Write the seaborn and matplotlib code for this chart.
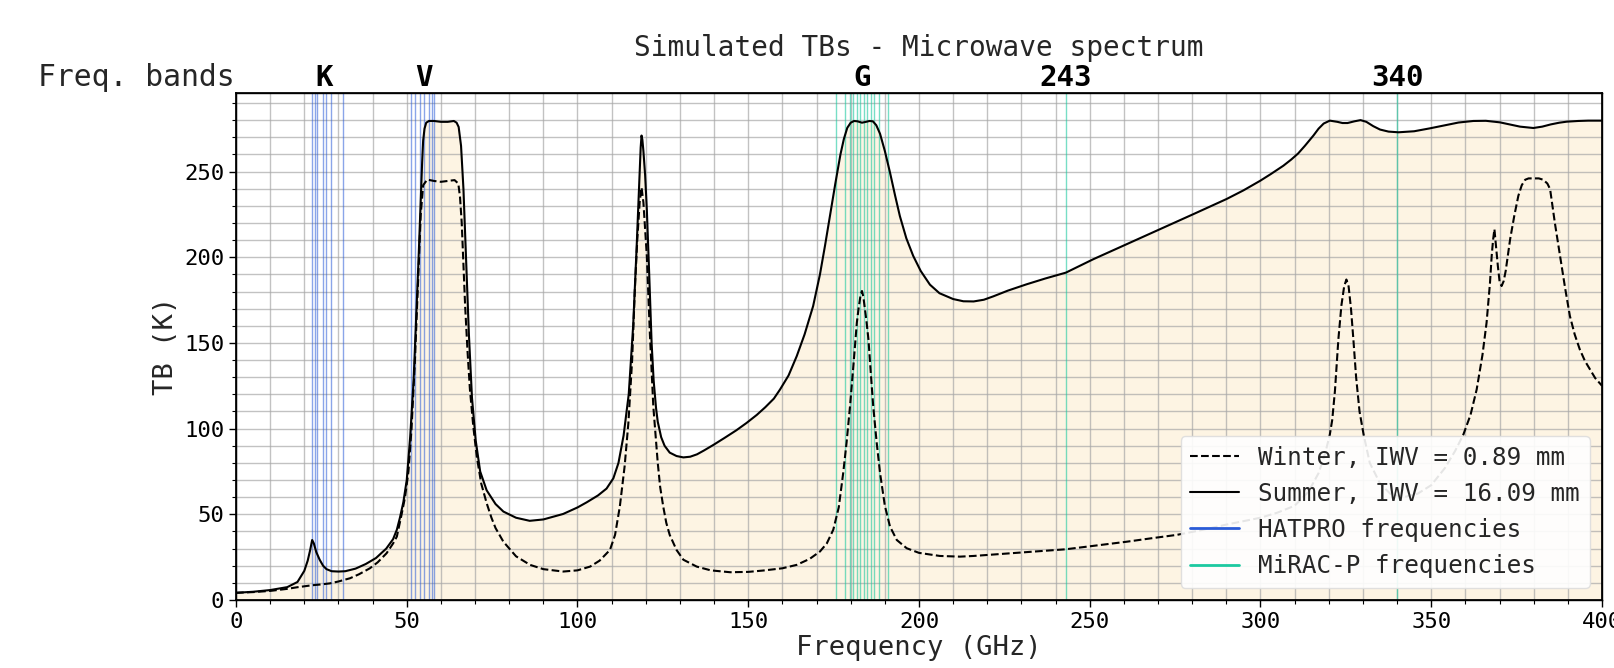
import numpy as np
import pandas as pd
import matplotlib
matplotlib.use("Agg")
import matplotlib.pyplot as plt
from matplotlib.lines import Line2D
from matplotlib.ticker import MultipleLocator
import seaborn as sns

# ---------------- data ----------------
summer_freq = [0, 5, 10, 15, 18, 20, 21, 21.7, 22.3, 22.8, 23.5, 24.5, 25.5, 26.5, 28, 30, 32, 35, 38,
               41, 44, 46, 47.1, 48, 49, 50, 51, 51.4, 52, 52.4, 53, 53.4, 53.8, 54.1, 54.5, 54.8,
               55.2, 55.7, 56.5, 58, 60, 62, 63.8, 64.6, 65.2, 65.9, 66.6, 67.4, 68.2, 69.1, 70.2,
               71.5, 73.4, 76, 78.3, 82, 86, 90, 95.8, 100, 102.7, 106, 108.5, 110.5, 112, 113.5,
               115, 116.3, 117.3, 117.8, 118.2, 118.5, 118.75, 119.0, 119.3, 119.8, 120.3, 121,
               121.7, 122.3, 123, 123.5, 124.5, 125.5, 127, 129, 131, 133, 135, 137, 139.8, 143,
               146.5, 149.5, 152.5, 155, 157.5, 159.3, 161.8, 164.2, 166.5, 169, 171, 172.5, 174,
               175.5, 177, 178, 179, 180, 181, 182, 183.3, 184.5, 185.5, 186.5, 187.5, 188.6, 190,
               191.5, 193, 194.4, 196.3, 198.3, 200.5, 203.2, 206, 210, 213, 216, 219, 221.8, 226,
               231.5, 237, 243, 251, 260.8, 270.6, 280.3, 290.1, 295, 299.9, 303, 306.7, 309, 311,
               313, 315.5, 317, 318.5, 320.3, 322.5, 324, 325.5, 327.5, 329.3, 331, 333, 335, 337.5,
               340.4, 345, 349.6, 354, 358, 362.3, 366, 370.1, 373, 376, 379.9, 382.5, 385, 387.5,
               389.7, 393, 396, 400]
summer_tb = [4.2, 4.8, 5.8, 7.5, 10.5, 17, 23, 29, 35, 33, 28, 23.5, 20, 18, 16.8, 16.6, 16.8, 18.3,
             21, 24.5, 30, 35.5, 41, 48, 57, 70, 95, 108, 128, 147, 175, 196, 218, 235, 255, 268,
             275, 278.5, 279.5, 279.5, 279, 279, 279.5, 278.5, 276, 265, 240, 198, 155, 118, 93,
             75, 64, 56, 51.6, 48, 46.2, 47, 50.2, 54, 57, 61, 65, 71, 80, 96, 120, 160, 205, 230,
             250, 264, 271, 268.5, 262, 248, 228, 190, 150, 128, 112, 104, 95, 90, 86, 84, 83.2,
             83.6, 85, 87.2, 90.5, 94.5, 99, 103.3, 108, 112.5, 117.5, 122.8, 131, 142.3, 155,
             171.5, 190, 207, 225, 243, 260, 269, 275.5, 278.5, 279.5, 279.3, 278.5, 279, 279.5,
             279.3, 277, 272, 262, 249.5, 236, 224, 211, 200.8, 192, 184, 179, 175.6, 174.3,
             174.2, 175.2, 177.2, 180.5, 184.2, 187.6, 191, 198.8, 207.6, 216.4, 225.1, 234, 239,
             244.6, 248.5, 253.4, 257, 260.5, 265, 271, 275, 278, 279.7, 279, 278.3, 278.3, 279.3,
             280, 279, 276.5, 274.5, 273.3, 272.9, 273.5, 275.2, 277, 278.6, 279.5, 279.6, 278.7,
             277.5, 276.2, 275.4, 276.2, 277.5, 278.5, 279.1, 279.5, 279.7, 279.7]

winter_freq = [0, 5, 10, 15, 17.8, 20, 22.3, 25, 27.5, 30, 33.4, 36, 39.2, 41.5, 44.1, 46, 47.1, 48.5,
               49.5, 50.5, 51.4, 52.4, 53.4, 54.1, 54.8, 56, 58, 60, 62, 64, 65.1, 65.6, 66.1, 66.6,
               67.1, 67.8, 68.5, 69.5, 70.5, 71.8, 73.4, 74.8, 76, 78.3, 82, 86.1, 90, 95.8, 100,
               103.7, 106.5, 109.5, 111, 112.4, 113.8, 114.9, 116, 116.8, 117.5, 118.2, 118.75,
               119.3, 120.3, 121.2, 122.2, 123.5, 124.2, 125.1, 126, 127, 129, 131, 134.9, 139,
               144.7, 150, 154.4, 160, 164.2, 168, 171, 173, 174.9, 176.5, 177.8, 178.8, 179.8,
               180.8, 181.8, 182.3, 182.9, 183.3, 183.7, 184.6, 185.2, 185.9, 186.6, 187.6, 188.6,
               190, 191.5, 193.5, 196.4, 200, 206.1, 212, 216, 225, 235, 243, 252, 260.8, 268,
               275.5, 282, 290, 300, 305, 310, 314, 317, 319, 320.3, 321, 321.8, 322.8, 323.7,
               324.5, 325.15, 325.8, 326.5, 327.2, 328, 329, 330.2, 332, 335, 338, 342, 346, 350,
               354, 357, 359.4, 361.5, 363.3, 365, 366.2, 367.2, 367.7, 368.1, 368.5, 369, 369.5,
               370, 370.6, 371.2, 371.8, 373.1, 374.3, 375.5, 376.5, 377.5, 378.5, 380, 381.5,
               382.8, 384, 384.8, 386.2, 387.7, 389.2, 390.6, 392, 393.5, 395, 396.5, 398, 400]
winter_tb = [4.2, 4.6, 5.3, 6.5, 7.4, 8, 8.6, 9.1, 9.7, 10.8, 12.7, 15, 18.5, 22, 27.3, 33, 37, 50,
             60, 75, 100, 140, 190, 225, 242, 245.3, 244.5, 244, 244.5, 245, 243, 235, 220, 196,
             171.5, 145, 122.8, 101, 83.8, 68, 56.5, 48, 42, 34, 25.5, 20.5, 18, 16.6, 17.3, 19.5,
             23, 29.2, 38, 54.6, 78, 103.3, 140, 181.3, 210, 232, 240.7, 232, 200.8, 155, 113, 80,
             66, 54.6, 45, 38, 29.2, 23.5, 19.5, 17.3, 16.2, 16.4, 17.2, 18.5, 20.5, 24, 28.3, 33,
             41, 54, 74, 92, 113, 137, 161.8, 170, 178, 180.3, 177, 163, 152, 132, 113, 92, 74, 55,
             42.9, 35, 30.2, 27.5, 25.7, 25.3, 25.7, 27, 28.5, 29.6, 31.8, 34, 36, 38, 40.5, 44, 48,
             51, 55, 63, 74, 86, 96.5, 105, 122, 152, 172, 183, 187, 183, 170, 152, 130, 110, 96.5,
             80, 68, 62, 60, 62, 67, 77, 87, 96.5, 108, 122.8, 143, 161.8, 185, 200.8, 210, 216.4,
             206, 195, 186, 183.2, 186, 192, 210.5, 224, 235.8, 242, 245.2, 246, 246, 246, 245.2,
             243, 239.8, 220, 200.8, 182, 165.7, 155, 146.2, 139.5, 134.5, 129.5, 125]

hatpro_freqs = [22.24, 23.04, 23.84, 25.44, 26.24, 27.84, 31.40,
                51.26, 52.28, 53.86, 54.94, 56.66, 57.30, 58.00]
mirac_freqs = [175.81, 178.31, 179.81, 180.81, 181.81, 182.71, 183.91, 184.81,
               185.81, 186.81, 188.31, 190.81, 243.0, 340.0]

band_pos = [25.7, 54.9, 183.31, 243.0, 340.0]
band_labels = ["K", "V", "G", "243", "340"]

legend_labels = ["Winter, IWV = 0.89 mm", "Summer, IWV = 16.09 mm",
                 "HATPRO frequencies", "MiRAC-P frequencies"]

# ---------------- style ----------------
sns.set_theme(style="ticks")
plt.rcParams["font.family"] = ["DejaVu Sans Mono", "DejaVu Sans"]
plt.rcParams["axes.edgecolor"] = "black"
plt.rcParams["xtick.color"] = "black"
plt.rcParams["ytick.color"] = "black"

HATPRO_C = "#2a5bd7"
MIRAC_C = "#1cc9a0"
FILL_C = "#fdf4e3"

fig = plt.figure(figsize=(16.14, 6.68), dpi=100)
ax = fig.add_axes([0.14622, 0.10180, 0.84634, 0.75943])

summer = pd.DataFrame({"freq": summer_freq, "tb": summer_tb})
winter = pd.DataFrame({"freq": winter_freq, "tb": winter_tb})

ax.fill_between(summer["freq"], summer["tb"], 0, color=FILL_C, zorder=0.5, lw=0)

for f in hatpro_freqs:
    ax.axvline(f, color=HATPRO_C, alpha=0.55, lw=1.0, zorder=1.8)
for f in mirac_freqs:
    ax.axvline(f, color=MIRAC_C, alpha=0.6, lw=1.0, zorder=1.8)

sns.lineplot(data=winter, x="freq", y="tb", ax=ax, color="black", lw=1.5,
             linestyle="--", legend=False, zorder=3)
sns.lineplot(data=summer, x="freq", y="tb", ax=ax, color="black", lw=1.5,
             legend=False, zorder=3)

ax.set_xlim(0, 400)
ax.set_ylim(0, 296)
ax.xaxis.set_major_locator(MultipleLocator(50))
ax.xaxis.set_minor_locator(MultipleLocator(10))
ax.yaxis.set_major_locator(MultipleLocator(50))
ax.yaxis.set_minor_locator(MultipleLocator(10))
ax.grid(which="major", color="#a8a8a8", lw=1.0, alpha=0.7)
ax.grid(which="minor", color="#a8a8a8", lw=1.0, alpha=0.7)
ax.tick_params(which="major", length=5, width=1, labelsize=16)
ax.tick_params(which="minor", length=3, width=0.8)
for s in ax.spines.values():
    s.set_color("black")
    s.set_linewidth(1.0)

ax.set_xlabel("Frequency (GHz)", fontsize=19.5, labelpad=2)
ax.set_ylabel("TB (K)", fontsize=19.5)

ax2 = ax.twiny()
ax2.set_xlim(ax.get_xlim())
ax2.set_xticks(band_pos)
ax2.set_xticklabels(band_labels, fontweight="bold", fontsize=21)
ax2.tick_params(axis="x", length=0, pad=0.5)
ax2.xaxis.set_minor_locator(plt.NullLocator())
ax2.set_title("Simulated TBs - Microwave spectrum", fontsize=20, pad=6)

ax.text(-0.001, 1.0132, "Freq. bands", transform=ax.transAxes, ha="right",
        va="baseline", fontsize=21.4)

handles = [Line2D([0], [0], color="black", lw=1.5, linestyle="--"),
           Line2D([0], [0], color="black", lw=1.5),
           Line2D([0], [0], color=HATPRO_C, lw=2),
           Line2D([0], [0], color=MIRAC_C, lw=2)]
leg = ax.legend(handles, legend_labels, loc="lower right", fontsize=17.5,
                frameon=True, framealpha=0.9, edgecolor="#dddddd", fancybox=True)
leg.set_zorder(5)

fig.savefig("out.png", dpi=100)
